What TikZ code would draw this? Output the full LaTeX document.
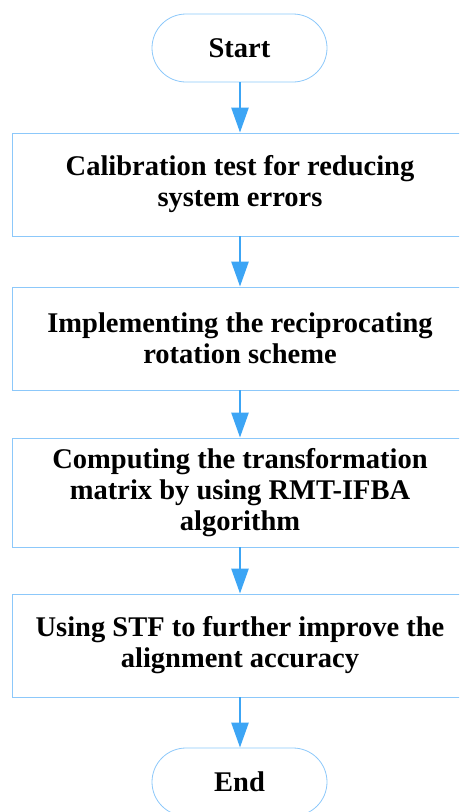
\documentclass[tikz,border=0pt]{standalone}
\usepackage{fontspec}
\setmainfont{Liberation Serif}
\usetikzlibrary{arrows.meta}
\definecolor{arrowblue}{RGB}{60,165,245}
\definecolor{borderblue}{RGB}{140,200,250}
\tikzset{
  txt/.style={font=\fontsize{28.5}{31}\selectfont\bfseries, align=center},
  term/.style={txt, draw=borderblue, line width=0.8pt, rounded corners=34pt,
    minimum width=175pt, minimum height=68pt, inner sep=0pt},
  procbox/.style={txt, draw=borderblue, line width=0.8pt,
    minimum width=456pt, inner sep=0pt},
  flow/.style={draw=arrowblue, line width=2.6pt,
    -{Triangle[length=25pt,width=17pt]}}
}
\begin{document}
\begin{tikzpicture}[x=1pt,y=-1pt]
\clip (0,0) rectangle (459,812);
\node[term] (start) at (239.5,48) {Start};
\node[procbox, minimum height=103pt] (b1) at (240,184.5) {Calibration test for reducing\\system errors};
\node[procbox, minimum height=103pt] (b2) at (240,338.5) {Implementing the reciprocating\\rotation scheme};
\node[procbox, minimum height=109pt] (b3) at (240,492.5) {Computing the transformation\\matrix by using RMT-IFBA\\algorithm};
\node[procbox, minimum height=103pt] (b4) at (240,645.5) {Using STF to further improve the\\alignment accuracy};
\node[term] (end) at (239.5,782) {End};
\draw[flow] (start.south -| b1.north) -- (b1.north);
\draw[flow] (b1.south) -- (b2.north);
\draw[flow] (b2.south) -- (b3.north);
\draw[flow] (b3.south) -- (b4.north);
\draw[flow] (b4.south) -- (end.north -| b4.south);
\end{tikzpicture}
\end{document}
